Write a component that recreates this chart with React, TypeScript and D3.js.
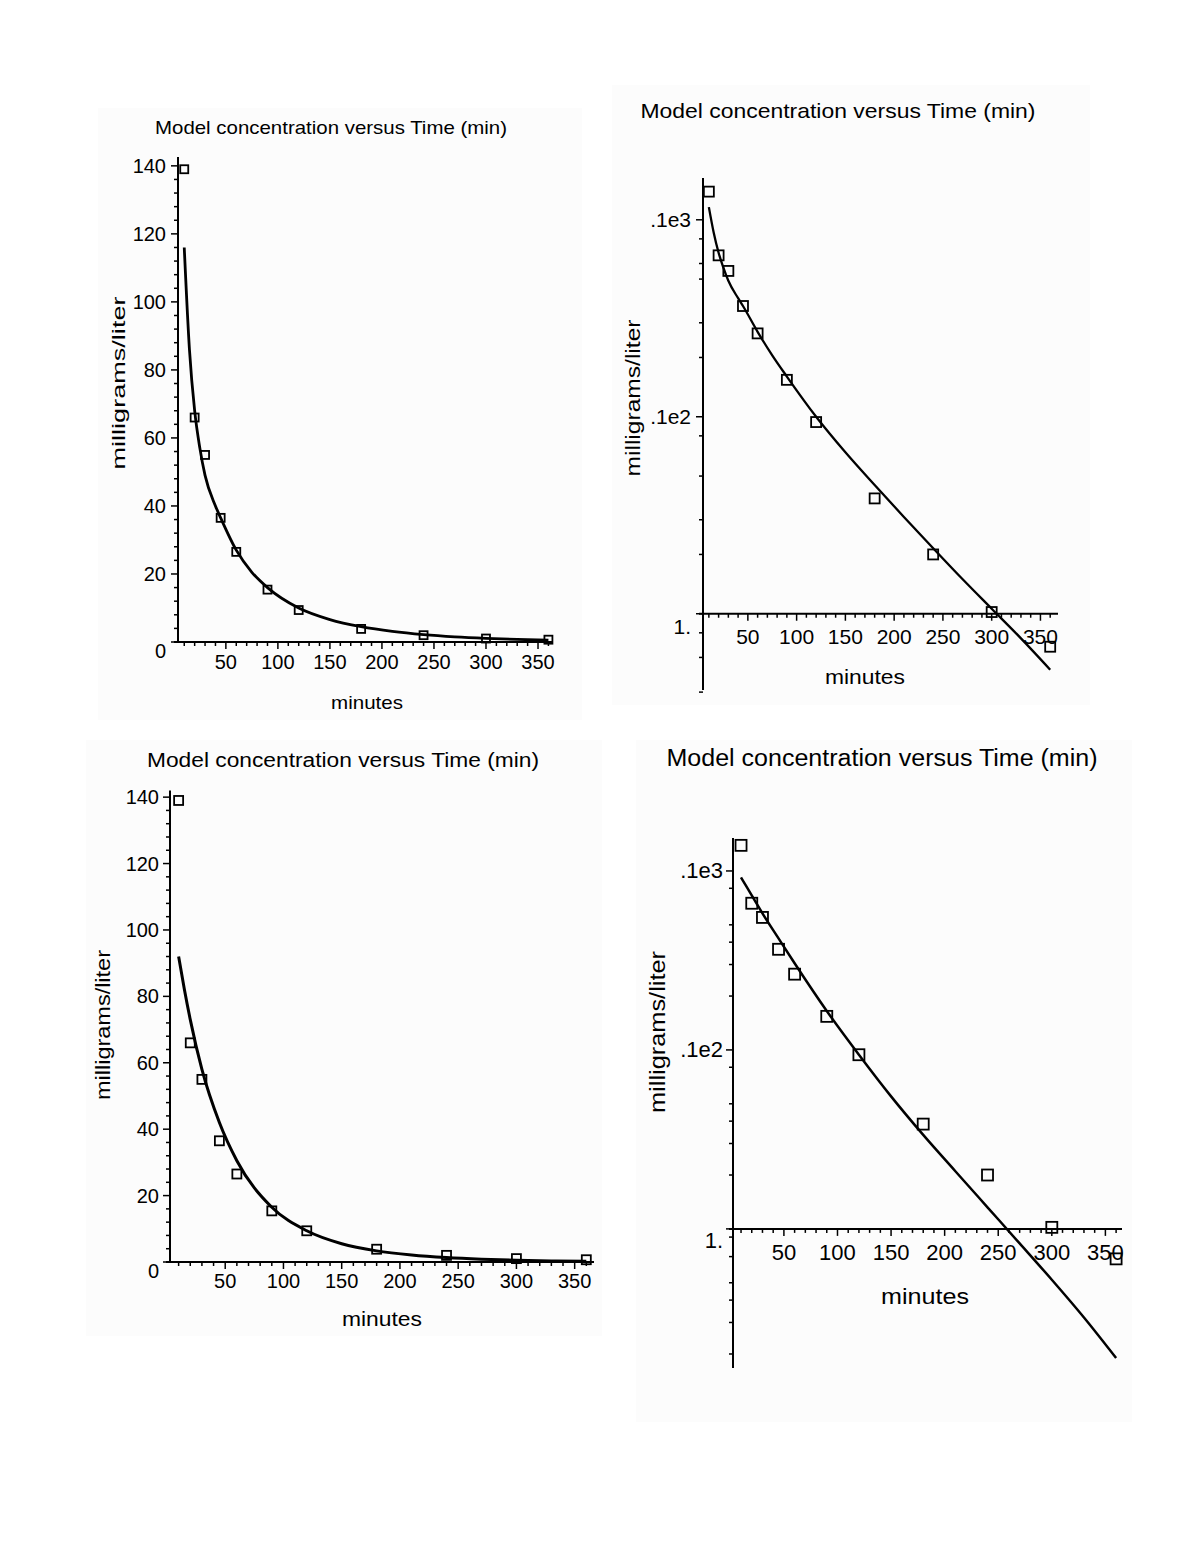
import React from "react";
import * as d3 from "d3";

// Observed concentrations (mg/L) at sample times (min)
const sampleTimes = [10, 20, 30, 45, 60, 90, 120, 180, 240, 300, 360];
const sampleConc = [139, 66, 55, 36.5, 26.5, 15.4, 9.4, 3.85, 2.0, 1.02, 0.68];

// Model A curve (top panels)
const modelATimes = [10, 15, 20, 25, 30, 40, 45, 60, 75, 90, 120, 150, 180, 210, 240, 270, 300, 330, 360];
const modelAConc = [116, 86, 68, 57, 49, 40, 36.5, 27, 20.5, 16, 10, 6.6, 4.5, 3.1, 2.15, 1.5, 1.06, 0.75, 0.52];

// Model B curve (bottom panels)
const modelBTimes = [10, 15, 20, 30, 45, 60, 90, 120, 150, 180, 210, 240, 270, 300, 330, 360];
const modelBConc = [92, 82, 73, 58, 42, 30.5, 16.5, 9.4, 5.5, 3.35, 2.1, 1.32, 0.83, 0.52, 0.32, 0.19];

// Axis ticks
const xMajorTicks = [50, 100, 150, 200, 250, 300, 350];
const xMinorTicks = [10, 20, 30, 40, 60, 70, 80, 90, 110, 120, 130, 140, 160, 170, 180, 190, 210, 220, 230, 240, 260, 270, 280, 290, 310, 320, 330, 340, 360];
const linearMajorTicks = [0, 20, 40, 60, 80, 100, 120, 140];
const linearMinorTicks = [4, 8, 12, 16, 24, 28, 32, 36, 44, 48, 52, 56, 64, 68, 72, 76, 84, 88, 92, 96, 104, 108, 112, 116, 124, 128, 132, 136];
const logMajorTicks = [100, 10, 1];
const logMajorLabels = [".1e3", ".1e2", "1."];
const logMinorTicksTop = [80, 60, 50, 30, 20, 8, 5, 3, 2, 0.8, 0.6, 0.4];
const logMinorTicksBottom = [80, 50, 40, 30, 20, 8, 5, 4, 3, 2, 0.9, 0.7, 0.5, 0.4, 0.3, 0.2];

const titleText = "Model concentration versus Time (min)";
const xTitleText = "minutes";
const yTitleText = "milligrams/liter";

const FONT = "'Liberation Sans', Arial, Helvetica, sans-serif";

type PanelCfg = {
  kind: "linear" | "log";
  xDomain: [number, number];
  xRange: [number, number];
  yDomain: [number, number];
  yRange: [number, number];
  modelT: number[];
  modelC: number[];
  minorLog?: number[];
  bg: [number, number, number, number];
  title: { x: number; y: number; size: number; len: number };
  yTitle: { x: number; y: number; size: number; len: number };
  xTitle: { x: number; y: number; size: number; len: number };
  tickSize: number;
  xLabelY: number;
  yLabelRight: number;
  box: number;
  lineW: number;
  lowLabelDy: number;
};

const panels: PanelCfg[] = [
  {
    kind: "linear",
    xDomain: [4, 364.4],
    xRange: [178, 553],
    yDomain: [0, 142.6],
    yRange: [642, 157],
    modelT: modelATimes,
    modelC: modelAConc,
    bg: [98, 108, 484, 612],
    title: { x: 331, y: 127, size: 19, len: 352 },
    yTitle: { x: 118, y: 383, size: 19, len: 173 },
    xTitle: { x: 367, y: 702, size: 19, len: 72 },
    tickSize: 20,
    xLabelY: 662,
    yLabelRight: 166,
    box: 8,
    lineW: 2.8,
    lowLabelDy: 9,
  },
  {
    kind: "log",
    xDomain: [4, 368],
    xRange: [703, 1058],
    yDomain: [0.41, 163],
    yRange: [690, 178],
    modelT: modelATimes,
    modelC: modelAConc,
    minorLog: logMinorTicksTop,
    bg: [612, 85, 478, 620],
    title: { x: 838, y: 110, size: 21, len: 395 },
    yTitle: { x: 632, y: 398, size: 21, len: 157 },
    xTitle: { x: 865, y: 676, size: 21, len: 80 },
    tickSize: 21,
    xLabelY: 636,
    yLabelRight: 691,
    box: 10,
    lineW: 2.3,
    lowLabelDy: 13,
  },
  {
    kind: "linear",
    xDomain: [2.6, 366.6],
    xRange: [170, 594],
    yDomain: [0, 142],
    yRange: [1262, 790.5],
    modelT: modelBTimes,
    modelC: modelBConc,
    bg: [86, 740, 516, 596],
    title: { x: 343, y: 760, size: 20, len: 392 },
    yTitle: { x: 103, y: 1025, size: 20, len: 150 },
    xTitle: { x: 382, y: 1319, size: 20, len: 80 },
    tickSize: 20,
    xLabelY: 1281,
    yLabelRight: 159,
    box: 9,
    lineW: 3,
    lowLabelDy: 9,
  },
  {
    kind: "log",
    xDomain: [2.5, 365.5],
    xRange: [733, 1122],
    yDomain: [0.167, 152.8],
    yRange: [1368, 838],
    modelT: modelBTimes,
    modelC: modelBConc,
    minorLog: logMinorTicksBottom,
    bg: [636, 740, 496, 682],
    title: { x: 882, y: 758, size: 23, len: 431 },
    yTitle: { x: 657, y: 1032, size: 22, len: 162 },
    xTitle: { x: 925, y: 1296, size: 22, len: 88 },
    tickSize: 22,
    xLabelY: 1252,
    yLabelRight: 723,
    box: 11,
    lineW: 2.5,
    lowLabelDy: 12,
  },
];

function Panel({ cfg }: { cfg: PanelCfg }) {
  const x = d3.scaleLinear().domain(cfg.xDomain).range(cfg.xRange);
  const y =
    cfg.kind === "log"
      ? d3.scaleLog().domain(cfg.yDomain).range(cfg.yRange)
      : d3.scaleLinear().domain(cfg.yDomain).range(cfg.yRange);

  const axisY = cfg.kind === "log" ? y(1) : y(0);
  const axisX = cfg.xRange[0];
  const modelPts: [number, number][] = cfg.modelT.map((t, i) => [t, cfg.modelC[i]]);
  const line = d3
    .line<[number, number]>()
    .x((d) => x(d[0]))
    .y((d) => y(d[1]))
    .curve(d3.curveMonotoneX);

  const majorY = cfg.kind === "log" ? logMajorTicks : linearMajorTicks;
  const majorYLabels = cfg.kind === "log" ? logMajorLabels : linearMajorTicks.map(String);
  const minorY = cfg.kind === "log" ? cfg.minorLog || [] : linearMinorTicks;
  const lowValue = cfg.kind === "log" ? 1 : 0;
  const b = cfg.box;

  return (
    <g>
      <rect x={cfg.bg[0]} y={cfg.bg[1]} width={cfg.bg[2]} height={cfg.bg[3]} fill="#fcfcfc" />
      <text
        x={cfg.title.x}
        y={cfg.title.y}
        fontSize={cfg.title.size}
        textAnchor="middle"
        dominantBaseline="central"
        textLength={cfg.title.len}
        lengthAdjust="spacingAndGlyphs"
        fontFamily={FONT}
        fill="#000"
      >
        {titleText}
      </text>
      <text
        transform={`translate(${cfg.yTitle.x},${cfg.yTitle.y}) rotate(-90)`}
        fontSize={cfg.yTitle.size}
        textAnchor="middle"
        dominantBaseline="central"
        textLength={cfg.yTitle.len}
        lengthAdjust="spacingAndGlyphs"
        fontFamily={FONT}
        fill="#000"
      >
        {yTitleText}
      </text>
      <text
        x={cfg.xTitle.x}
        y={cfg.xTitle.y}
        fontSize={cfg.xTitle.size}
        textAnchor="middle"
        dominantBaseline="central"
        textLength={cfg.xTitle.len}
        lengthAdjust="spacingAndGlyphs"
        fontFamily={FONT}
        fill="#000"
      >
        {xTitleText}
      </text>

      {/* axes */}
      <line x1={axisX} x2={axisX} y1={cfg.yRange[1]} y2={cfg.yRange[0]} stroke="#000" strokeWidth={2} />
      <line x1={axisX - 4} x2={cfg.xRange[1]} y1={axisY} y2={axisY} stroke="#000" strokeWidth={2} />

      {/* y ticks */}
      {minorY.map((v) => (
        <line key={"ym" + v} x1={axisX - 4} x2={axisX} y1={y(v)} y2={y(v)} stroke="#000" strokeWidth={1.5} />
      ))}
      {majorY.map((v, i) => (
        <g key={"yM" + v}>
          <line x1={axisX - 7} x2={axisX} y1={y(v)} y2={y(v)} stroke="#000" strokeWidth={1.5} />
          <text
            x={cfg.yLabelRight}
            y={y(v) + (v === lowValue ? cfg.lowLabelDy : 0)}
            fontSize={cfg.tickSize}
            textAnchor="end"
            dominantBaseline="central"
            fontFamily={FONT}
            fill="#000"
          >
            {majorYLabels[i]}
          </text>
        </g>
      ))}

      {/* x ticks */}
      {xMinorTicks.map((t) => (
        <line key={"xm" + t} x1={x(t)} x2={x(t)} y1={axisY} y2={axisY + 4} stroke="#000" strokeWidth={1.5} />
      ))}
      {xMajorTicks.map((t) => (
        <g key={"xM" + t}>
          <line x1={x(t)} x2={x(t)} y1={axisY} y2={axisY + 7} stroke="#000" strokeWidth={1.5} />
          <text
            x={x(t)}
            y={cfg.xLabelY}
            fontSize={cfg.tickSize}
            textAnchor="middle"
            dominantBaseline="central"
            fontFamily={FONT}
            fill="#000"
          >
            {t}
          </text>
        </g>
      ))}

      {/* model curve */}
      <path d={line(modelPts) || ""} fill="none" stroke="#000" strokeWidth={cfg.lineW} />

      {/* observed points */}
      {sampleTimes.map((t, i) => (
        <rect
          key={"p" + t}
          x={x(t) - b / 2}
          y={y(sampleConc[i]) - b / 2}
          width={b}
          height={b}
          fill="none"
          stroke="#000"
          strokeWidth={1.8}
        />
      ))}
    </g>
  );
}

export default function App() {
  return (
    <svg width={1197} height={1549} style={{ display: "block", position: "absolute", left: 0, top: 0 }}>
      <rect x={0} y={0} width={1197} height={1549} fill="#fff" />
      {panels.map((p, i) => (
        <Panel key={i} cfg={p} />
      ))}
    </svg>
  );
}
